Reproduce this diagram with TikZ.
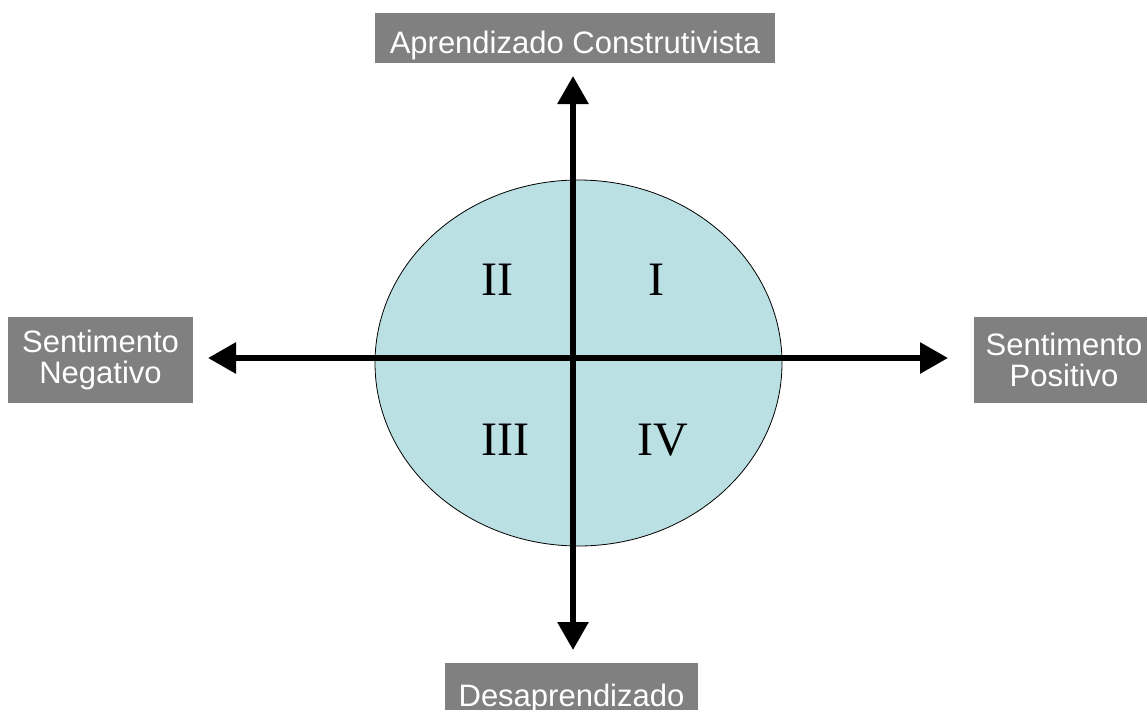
\documentclass[tikz,border=0pt]{standalone}
\usepackage{fontspec}
\setmainfont{Liberation Sans}
\newfontfamily\romanfont{Liberation Serif}
\usetikzlibrary{arrows.meta,shapes.geometric}
\definecolor{boxgray}{RGB}{128,128,128}
\definecolor{ovalfill}{RGB}{187,224,227}
\tikzset{
  labelbox/.style={fill=boxgray, text=white, inner sep=0pt, font=\fontsize{31}{31}\selectfont},
  axis/.style={line width=6pt, -{Triangle[width=30pt,length=28pt]}},
  quad/.style={anchor=base, inner sep=0pt, font=\romanfont\fontsize{48}{48}\selectfont},
}
\begin{document}
\begin{tikzpicture}[x=1pt,y=-1pt]
\useasboundingbox (0,0) rectangle (1147,709);
% oval
\node (oval) [ellipse, draw=black, line width=0.8pt, fill=ovalfill, minimum width=407pt, minimum height=366pt, inner sep=0pt] at (578.5,363) {};
% labels
\node (top) [labelbox, minimum width=400pt, minimum height=50pt, text height=32pt, text depth=2pt] at (575,38) {Aprendizado Construtivista};
\node (neg) [labelbox, minimum width=185pt, minimum height=86pt, align=center] at (100.5,360) {Sentimento\\Negativo};
\node (pos) [labelbox, minimum width=180pt, minimum height=86pt, align=center] at (1064,360) {Sentimento\\Positivo};
\node (des) [labelbox, minimum width=253pt, minimum height=60pt, text height=30pt, text depth=4pt] at (571.5,693) {Desaprendizado};
% axis coordinates
\coordinate (vt) at (573,76);
\coordinate (vb) at (573,650);
\coordinate (hl) at (208,358);
\coordinate (hr) at (948,358);
\coordinate (o) at (573,358);
\draw[axis] (o) -- (vt);
\draw[axis] (o) -- (vb);
\draw[axis] (o) -- (hl);
\draw[axis] (o) -- (hr);
% quadrant labels
\node (q1) [quad] at (656,295) {I};
\node (q2) [quad] at (497.5,295) {II};
\node (q3) [quad] at (505,455) {III};
\node (q4) [quad] at (663,455) {IV};
\end{tikzpicture}
\end{document}
